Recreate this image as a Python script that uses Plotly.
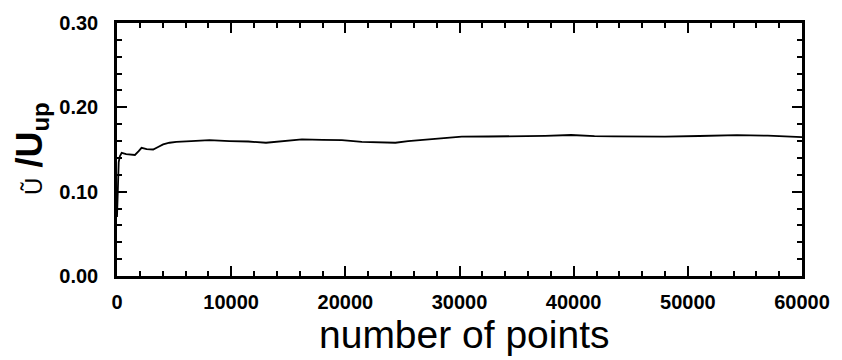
import plotly.graph_objects as go

# data
n_points = [0, 60, 150, 250, 410, 800, 1200, 1570, 1900, 2150, 2600, 3170, 3600, 4040, 4600,
            5200, 6500, 8100, 9850, 11500, 13050, 14500, 16200, 18000, 19700, 21450, 23000,
            24380, 25500, 27290, 28160, 29180, 30200, 32500, 34850, 37500, 39780, 41820,
            43500, 45310, 48000, 51000, 54300, 57000, 60000]
u_ratio = [0.070, 0.110, 0.135, 0.142, 0.146, 0.1445, 0.144, 0.1435, 0.148, 0.152, 0.1505,
           0.150, 0.153, 0.156, 0.158, 0.159, 0.160, 0.161, 0.160, 0.1595, 0.158, 0.160,
           0.162, 0.1615, 0.161, 0.159, 0.1585, 0.158, 0.160, 0.162, 0.163, 0.1635, 0.1652,
           0.1654, 0.1654, 0.1662, 0.1672, 0.1658, 0.1656, 0.1654, 0.1652, 0.166, 0.167,
           0.1664, 0.1646]
x_ticks = [0, 10000, 20000, 30000, 40000, 50000, 60000]
y_ticks = [0.0, 0.1, 0.2, 0.3]

FONT = "Liberation Sans, Arial, Helvetica, sans-serif"

fig = go.Figure()
fig.add_trace(go.Scatter(x=n_points, y=u_ratio, mode="lines",
                         line=dict(color="black", width=1.8), showlegend=False))

axis_common = dict(
    showgrid=False, zeroline=False, showline=True, linecolor="black", linewidth=2.5,
    mirror="ticks", ticks="inside", tickcolor="black", tickwidth=2,
)
fig.update_xaxes(range=[0, 60000], tickvals=x_ticks, ticktext=[str(v) for v in x_ticks],
                 ticklen=10, ticklabelstandoff=6,
                 tickfont=dict(family=FONT, size=20, color="black", weight="bold"),
                 minor=dict(dtick=2000, ticklen=5, ticks="inside", tickcolor="black", tickwidth=1.5),
                 **axis_common)
fig.update_yaxes(range=[0, 0.3], tickvals=y_ticks, ticktext=[f"{v:.2f}" for v in y_ticks],
                 ticklen=10, ticklabelstandoff=12,
                 tickfont=dict(family=FONT, size=20, color="black", weight="bold"),
                 minor=dict(dtick=0.02, ticklen=5, ticks="inside", tickcolor="black", tickwidth=1.5),
                 **axis_common)

fig.add_annotation(text="number of points", xref="paper", yref="paper",
                   x=(466 - 117) / 688, y=-(336 - 276) / 260, xanchor="center", yanchor="middle",
                   showarrow=False, font=dict(family=FONT, size=39, color="black"))
fig.add_annotation(text="<span style='font-size:24px;font-weight:normal'>Ũ</span> <b>/U<sub><span style='font-size:24px'>up</span></sub></b>",
                   xref="paper", yref="paper", textangle=-90,
                   x=(31 - 117) / 688, y=(276 - 145) / 260, xanchor="center", yanchor="middle",
                   showarrow=False, font=dict(family=FONT, size=36, color="black"))

fig.update_layout(width=842, height=360, margin=dict(l=117, r=37, t=16, b=84),
                  plot_bgcolor="white", paper_bgcolor="white")
fig.write_html("out.html")
